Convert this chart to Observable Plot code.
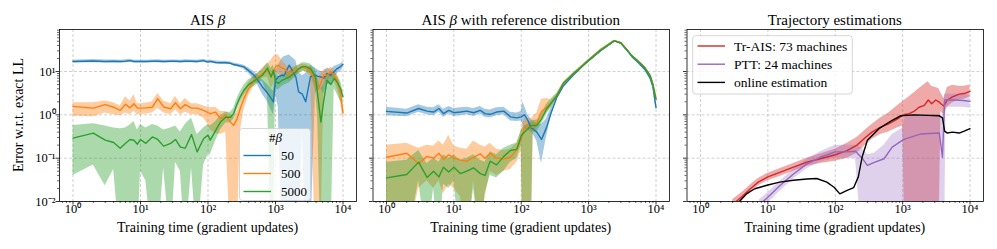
<!DOCTYPE html>
<html><head><meta charset="utf-8">
<script src="https://cdn.jsdelivr.net/npm/d3@7"></script>
<script src="https://cdn.jsdelivr.net/npm/@observablehq/plot@0.6"></script>
<style>
body{margin:0;background:#fff;}
#wrap{position:relative;width:997px;height:249px;font-family:"Liberation Serif",serif;overflow:hidden;}
.p{position:absolute;top:0;}
.p svg text{font-family:"Liberation Serif",serif !important;font-size:12.5px !important;fill:#000;}
#ov{position:absolute;left:0;top:0;pointer-events:none;}
</style></head>
<body><div id="wrap"></div>
<script>
// ---------- Panel 1 : AIS beta ----------
const p1T = [1,2,3,4,5,6,7,8,9,10, 12,15,18,22,28,33,39,46,57,69,86, 100,108,130,153,183,216,240,270,300, 340,400,480,540,640,760,860,930, 1000,1100,1250,1330,1600,2000,2200,2500,2800,3300,3900, 4200,4700,5200,5800,6600,7400,8200,9200,10000];
const p1Blue   = [17,17.5,17,17.2,17,17.3,17.8,17,17,17, 17,17.2,17.3,17,17.2,17.2,17,17.3,17.2,17,17.8, 16.5,17.2,16.2,16,16,15.5,14.5,14,13.5, 12.8,10.5,8.2,6.5,4.4,3.2,2.4,2.0, 6.3,7.5,8.2,8,14,7.5,3.4,3.0,2.0,7.6,8.2, 7.8,7.5,7,9,8.2,10,11.7,13,14.7];
const p1BlueLo = [15.8,16,15.8,15.9,15.8,16,16.3,15.8,15.8,15.8, 15.8,16,16,15.8,16,16,15.8,16,16,15.8,16.3, 15.3,15.9,15,14.8,14.8,14.3,13.4,12.9,12.3, 11.5,9,6.5,5,3,2,1.3,1.0, 3,1.5,0.001,0.001,0.001,0.001,0.001,0.4,0.001,0.001,3, 4,4,3,5,5,7,9,10,12];
const p1BlueHi = [18.3,19,18.5,18.5,18.3,18.6,19.2,18.3,18.3,18.3, 18.3,18.5,18.6,18.3,18.5,18.5,18.3,18.6,18.5,18.3,19.2, 17.8,18.5,17.5,17.2,17.2,16.7,15.7,15.2,14.7, 14,12,10,8.5,6.5,5,4,3.5, 10,14,20,22,24,18,10,8,9,14,12, 11,10,10,12,11,13,14,15,17];
const p1Orange   = [1.57,1.43,1.72,1.5,1.27,1.75,1.45,1.8,1.43,1.43, 1.45,1.5,2.37,1.52,1.38,1.9,1.38,1.72,1.43,1.43,1.27, 1.12,1.07,1.16,0.82,0.97,0.68,0.57,0.82,1.38, 2.37,4,6.2,7.2,9,10.3,8,9, 13,14,12,11.7,9,10.7,11.5,12.8,12,10.5,5.7, 3.7,5.3,8.2,8.2,9.8,8.2,6.3,3.1,1.1];
const p1OrangeLo = [0.93,0.9,1.1,1.0,0.95,1.1,1.0,1.2,1.0,1.0, 1.05,1.1,1.4,1.1,1.0,1.3,1.0,1.15,1.0,1.0,0.85, 0.6,0.45,0.37,0.35,0.4,0.001,0.001,0.001,0.4, 1.3,2.8,4.5,5.5,7,7.5,4,5, 8,9,8,8,6,8,9,10.5,10,8,0.001, 0.001,0.001,5,6,7,6,4,2,0.7];
const p1OrangeHi = [1.9,1.9,2.1,1.9,1.6,2.6,2.1,2.9,1.8,1.8, 1.85,2.0,3.1,2.1,1.8,2.7,1.8,2.4,1.8,1.8,1.6, 1.5,1.45,1.5,1.2,1.2,1.0,0.9,1.2,1.9, 3.2,5.5,8,9,12,15,18,22, 24,24,18,16,12,13.5,14,15,14.5,13,9, 7,9,11,11,12.5,11,9,5,1.8];
const p1Green   = [0.29,0.38,0.26,0.23,0.17,0.22,0.27,0.26,0.21,0.27, 0.22,0.31,0.27,0.19,0.22,0.27,0.18,0.17,0.35,0.14,0.28, 0.34,0.26,0.44,0.68,0.88,0.88,1.07,1.8,2.6, 3.7,5,6,6.9,8.2,12,7.5,10.7, 6,5.3,6.3,6.5,7.5,9.8,11.5,13,13,11.7,7.5, 3.1,0.68,2.2,6.3,5,7,5.7,4,2.6];
const p1GreenLo = [0.04,0.07,0.023,0.055,0.001,0.001,0.001,0.001,0.001,0.05, 0.03,0.001,0.001,0.06,0.001,0.08,0.05,0.001,0.06,0.001,0.07, 0.12,0.12,0.25,0.45,0.65,0.65,0.8,1.3,1.9, 2.8,3.8,4.5,5.2,6,3,0.001,0.001, 4,3.8,4.5,4.8,5.5,7.5,9,10,10,9,4, 1.0,0.001,0.001,0.001,0.001,4,3,2,1.8];
const p1GreenHi = [0.57,0.62,0.55,0.5,0.48,0.5,0.58,0.7,0.45,0.6, 0.5,0.6,0.55,0.45,0.5,0.55,0.4,0.6,0.85,0.35,0.5, 0.6,0.55,0.7,0.95,1.15,1.15,1.4,2.4,3.4, 4.8,6.5,7.8,9,11,16,12,14, 8.5,7.5,8.5,8.5,10,12.5,14,16,16,15,11, 7,4,5,9,9,10,8,6,3.6];

// ---------- Panel 2 : AIS beta with reference distribution ----------
const p2T = [1,2,3,4,5,6,7,8.4,10,12.5, 15.6,19.6,24.7,29,34.6,43,55,69,86,100, 105,112,125,140,150,170,200,236,280,340, 420,590,940,1500,2400,3000,3700,4400,5500,6900, 8200,9000,10000];
const p2Blue   = [1.2,1.1,1.4,1.22,1.16,1.4,1.07,1.27,1.12,1.16, 1.22,1.12,1.27,1.07,1.03,1.16,1.22,0.9,0.85,0.9, 0.95,1.0,0.75,0.5,0.47,0.4,0.27,0.5,1.16,2.6, 4.6,8.2,16.5,30,51,45,31,22,16,11, 7,4.5,1.47];
const p2BlueLo = [0.95,0.9,1.15,1.0,0.95,1.15,0.88,1.05,0.92,0.95, 1.0,0.92,1.05,0.88,0.85,0.95,1.0,0.72,0.7,0.72, 0.6,0.45,0.45,0.4,0.35,0.25,0.075,0.3,0.95,2.3, 4.2,7.6,15.5,28.5,49,43,29.5,21,15,10.3, 6.4,4,1.3];
const p2BlueHi = [1.5,1.35,1.7,1.5,1.45,1.7,1.35,1.55,1.4,1.45, 1.5,1.4,1.55,1.35,1.3,1.45,1.5,1.15,1.1,1.2, 2.0,1.6,1.0,0.8,0.7,0.65,0.6,0.8,1.5,2.9, 5,8.8,17.5,31.5,53,47,33,23,17,11.7, 7.6,5,1.65];
const p2Orange   = [0.105,0.13,0.075,0.11,0.1,0.13,0.095,0.12,0.1,0.09, 0.085,0.105,0.125,0.1,0.13,0.1,0.097,0.105,0.16,0.28, 0.35,0.55,0.55,0.52,0.55,0.63,1.2,1.5,1.9,2.8, 5.3,8.8,16.5,31,51,46,32,23,17,12, 8,5,2.3];
const p2OrangeLo = [0.001,0.001,0.02,0.03,0.02,0.03,0.015,0.025,0.02,0.013, 0.001,0.03,0.001,0.012,0.05,0.04,0.05,0.055,0.08,0.15, 0.001,0.001,0.001,0.001,0.35,0.5,0.8,1.1,1.5,2.5, 5,8.3,15.8,29.5,49,44,30.5,22,16.2,11.4, 7.6,4.7,2.1];
const p2OrangeHi = [0.2,0.22,0.17,0.2,0.19,0.25,0.2,0.34,0.19,0.17, 0.16,0.25,0.2,0.18,0.22,0.16,0.15,0.16,0.22,0.4, 0.6,0.85,0.8,0.8,0.9,1.1,2.3,2.4,2.2,3.1, 5.6,9.3,17.3,32.5,53,48,33.5,24,17.8,12.6, 8.4,5.3,2.5];
const p2Green   = [0.035,0.042,0.081,0.036,0.05,0.037,0.062,0.048,0.062,0.044, 0.05,0.06,0.044,0.04,0.085,0.07,0.11,0.15,0.16,0.33, 0.36,0.4,0.47,0.56,0.57,0.57,0.8,1.35,1.9,2.8, 5.3,8.8,16.5,31,51,46,32,23,17,12, 8,5,2.3];
const p2GreenLo = [0.001,0.001,0.03,0.001,0.02,0.001,0.025,0.02,0.03,0.001, 0.001,0.02,0.001,0.015,0.04,0.035,0.05,0.08,0.1,0.2, 0.001,0.001,0.001,0.001,0.4,0.4,0.6,1.0,1.5,2.5, 5,8.3,15.8,29.5,49,44,30.5,22,16.2,11.4, 7.6,4.7,2.1];
const p2GreenHi = [0.08,0.09,0.15,0.075,0.1,0.08,0.12,0.1,0.12,0.09, 0.1,0.12,0.09,0.08,0.14,0.12,0.17,0.2,0.22,0.45, 0.5,0.55,0.6,0.7,0.75,0.75,1.0,1.7,2.4,3.2, 5.6,9.3,17.3,32.5,53,48,33.5,24,17.8,12.6, 8.4,5.3,2.5];

// ---------- Panel 3 : Trajectory estimations ----------
const p3RedT  = [3,4.3,5.5,7.2,10,15,24,38,60,100, 150,210,280,350,470,620,830,1000,1080,1250, 1470,1750,2100,2400,2700,3100,3450,3700,4100,4600, 5500,6900,8200,10000];
const p3Red   = [0.0085,0.0138,0.0197,0.028,0.037,0.047,0.062,0.081,0.097,0.12, 0.15,0.2,0.3,0.4,0.52,0.62,0.8,0.97,1.02,1.07, 1.2,1.5,1.66,2.2,1.8,2.2,2.0,1.8,1.6,2.2, 2.6,3.0,3.1,3.5];
const p3RedLo = [0.006,0.011,0.016,0.023,0.03,0.038,0.05,0.065,0.075,0.085, 0.1,0.13,0.2,0.27,0.35,0.4,0.5,0.55,0.001,0.001, 0.001,0.001,0.001,0.001,0.001,0.001,0.001,1.2,1.0,1.5, 1.9,2.2,2.3,2.6];
const p3RedHi = [0.011,0.017,0.024,0.034,0.045,0.057,0.075,0.1,0.125,0.16, 0.22,0.3,0.45,0.6,0.85,1.1,1.6,2.0,2.2,2.6, 3.2,4,5,5.8,4.5,4.3,4.0,3.2,2.4,4.3, 4.8,4.6,4.6,4.9];
const p3PurpleT  = [7.5,10,15,24,38,60,100,150,200,250, 300,380,530,700,1000,1100,1830,3500,3900,4200, 4400,6000,8000,10000];
const p3Purple   = [0.0085,0.0125,0.023,0.043,0.074,0.105,0.14,0.14,0.145,0.1, 0.068,0.08,0.097,0.18,0.26,0.28,0.36,0.38,0.105,2.2, 2.2,2.2,2.15,2.05];
const p3PurpleLo = [0.006,0.009,0.017,0.033,0.057,0.08,0.1,0.1,0.1,0.001, 0.001,0.001,0.001,0.001,0.001,0.001,0.001,0.001,0.001,0.001, 1.5,1.5,1.5,1.4];
const p3PurpleHi = [0.011,0.016,0.029,0.055,0.095,0.14,0.2,0.2,0.2,0.17, 0.12,0.13,0.2,0.35,0.5,0.95,1.0,1.0,0.9,3.0, 3.0,3.0,2.9,2.8];
const p3BlackT = [3.5,4.8,6.4,10,15,24,38,53,75,97, 117,150,188,220,250,300,445,700,930,1470, 2340,3500,3900,4200,4600,5500,6900,8200,10000];
const p3Black  = [0.0088,0.015,0.0197,0.024,0.028,0.031,0.033,0.034,0.028,0.021, 0.015,0.018,0.021,0.037,0.105,0.26,0.48,0.75,0.95,1.0, 0.97,0.95,0.85,0.42,0.38,0.4,0.38,0.42,0.48];

// ---------- labels ----------
const titles = ["AIS ", "AIS ", "Trajectory estimations"];
const titleBeta = ["β", "β with reference distribution", ""];
const xLabel = "Training time (gradient updates)";
const yLabel = "Error w.r.t. exact LL";
const legend1Title = "#";
const legend1Labels = ["50", "500", "5000"];
const legend3Labels = ["Tr-AIS: 73 machines", "PTT: 24 machines", "online estimation"];
const majorX = [1, 10, 100, 1000, 10000];
const majorY = [0.01, 0.1, 1, 10];

const C = {blue:"#1f77b4", orange:"#ff7f0e", green:"#2ca02c", red:"#d62728", purple:"#9467bd", black:"#000000"};

const minorX = [], minorY = [];
for (let e = -1; e <= 4; e++) for (let m = 2; m <= 9; m++) { const v = m * 10 ** e; if (v > 10 ** -0.2 && v < 10 ** 4.2) minorX.push(v); }
for (let e = -2; e <= 1; e++) for (let m = 2; m <= 9; m++) { const v = m * 10 ** e; if (v < 10 ** 1.97) minorY.push(v); }

const sup = {"0":"⁰","1":"¹","2":"²","3":"³","4":"⁴","-":"⁻"};
const fmtPow = d => "10" + String(Math.round(Math.log10(d))).split("").map(c => sup[c]).join("");
const blank = () => "";

const rows = (t, y, lo, hi) => t.map((d, i) => ({t: d, y: y[i], lo: lo ? lo[i] : null, hi: hi ? hi[i] : null}));

function panel(width, ml, mr, series, showY) {
  const marks = [
    Plot.gridX(majorX, {stroke: "#b0b0b0", strokeOpacity: 0.75, strokeWidth: 0.8, strokeDasharray: "3,2"}),
    Plot.gridY(majorY, {stroke: "#b0b0b0", strokeOpacity: 0.75, strokeWidth: 0.8, strokeDasharray: "3,2"})
  ];
  for (const s of series) if (s.band) marks.push(Plot.areaY(s.data, {x: "t", y1: "lo", y2: "hi", fill: s.color, fillOpacity: s.alpha, clip: true}));
  for (const s of series) marks.push(Plot.line(s.data, {x: "t", y: "y", stroke: s.color, strokeWidth: 1.4, clip: true}));
  marks.push(
    Plot.frame({stroke: "#000", strokeWidth: 0.8}),
    Plot.axisX(majorX, {anchor: "bottom", tickSize: 3.5, tickPadding: -0.5, tickFormat: fmtPow, label: null, strokeWidth: 0.8}),
    Plot.axisX(minorX, {anchor: "bottom", tickSize: 2, tickFormat: blank, label: null, strokeWidth: 0.6}),
    Plot.axisY(majorY, {anchor: "left", tickSize: 3.5, tickPadding: 0.5, tickFormat: showY ? fmtPow : blank, label: null, strokeWidth: 0.8}),
    Plot.axisY(minorY, {anchor: "left", tickSize: 2, tickFormat: blank, label: null, strokeWidth: 0.6})
  );
  return Plot.plot({
    width, height: 249, marginLeft: ml, marginRight: mr, marginTop: 29, marginBottom: 48,
    x: {type: "log", domain: [10 ** -0.2, 10 ** 4.2]},
    y: {type: "log", domain: [0.01, 10 ** 1.97]},
    style: {fontFamily: "Liberation Serif", fontSize: "12.5px", color: "black", background: "transparent"},
    marks
  });
}

const s1 = [
  {data: rows(p1T, p1Blue, p1BlueLo, p1BlueHi), color: C.blue, alpha: 0.4, band: true},
  {data: rows(p1T, p1Orange, p1OrangeLo, p1OrangeHi), color: C.orange, alpha: 0.4, band: true},
  {data: rows(p1T, p1Green, p1GreenLo, p1GreenHi), color: C.green, alpha: 0.4, band: true}
];
const s2 = [
  {data: rows(p2T, p2Blue, p2BlueLo, p2BlueHi), color: C.blue, alpha: 0.4, band: true},
  {data: rows(p2T, p2Orange, p2OrangeLo, p2OrangeHi), color: C.orange, alpha: 0.4, band: true},
  {data: rows(p2T, p2Green, p2GreenLo, p2GreenHi), color: C.green, alpha: 0.4, band: true}
];
const s3 = [
  {data: rows(p3RedT, p3Red, p3RedLo, p3RedHi), color: C.red, alpha: 0.4, band: true},
  {data: rows(p3PurpleT, p3Purple, p3PurpleLo, p3PurpleHi), color: C.purple, alpha: 0.3, band: true},
  {data: rows(p3BlackT, p3Black), color: C.black, band: false}
];

const wrap = document.getElementById("wrap");
const layout = [
  {left: 0, width: 360, ml: 59, mr: 4, s: s1, y: true},
  {left: 360, width: 312, ml: 12.5, mr: 3, s: s2, y: false},
  {left: 672, width: 325, ml: 14.5, mr: 14, s: s3, y: false}
];
for (const L of layout) {
  const d = document.createElement("div");
  d.className = "p"; d.style.left = L.left + "px";
  d.appendChild(panel(L.width, L.ml, L.mr, L.s, L.y));
  wrap.appendChild(d);
}

// overlay: titles, axis labels, legends
const centers = [207.6, 520.75, 834.75];
let ov = `<svg id="ov" width="997" height="249" font-family="Liberation Serif">`;
centers.forEach((cx, i) => {
  ov += `<text x="${cx}" y="25" font-size="15" text-anchor="middle">${titles[i]}${titleBeta[i] ? `<tspan font-style="italic">β</tspan>${titleBeta[i].slice(1)}` : ""}</text>`;
  ov += `<text x="${cx}" y="231.5" font-size="14" text-anchor="middle">${xLabel}</text>`;
});
ov += `<text transform="translate(22.5,115) rotate(-90)" font-size="14" text-anchor="middle">${yLabel}</text>`;
// legend 1
ov += `<rect x="239.5" y="128.5" width="71" height="72" rx="3" fill="white" fill-opacity="0.8" stroke="#cccccc" stroke-width="0.8"/>`;
ov += `<text x="275.5" y="141.5" font-size="13" text-anchor="middle">${legend1Title}<tspan font-style="italic">β</tspan></text>`;
[C.blue, C.orange, C.green].forEach((c, i) => {
  const y = [155.5, 173.5, 191.5][i];
  ov += `<line x1="243.5" x2="271" y1="${y}" y2="${y}" stroke="${c}" stroke-width="1.4"/>`;
  ov += `<text x="281" y="${y + 4.5}" font-size="13">${legend1Labels[i]}</text>`;
});
// legend 3
ov += `<rect x="692.7" y="35.7" width="159.6" height="58.3" rx="3" fill="white" fill-opacity="0.8" stroke="#cccccc" stroke-width="0.8"/>`;
[C.red, C.purple, C.black].forEach((c, i) => {
  const y = [46, 64.2, 82.4][i];
  ov += `<line x1="697.5" x2="725" y1="${y}" y2="${y}" stroke="${c}" stroke-width="1.4"/>`;
  ov += `<text x="734" y="${y + 4.5}" font-size="13.5">${legend3Labels[i]}</text>`;
});
ov += `</svg>`;
wrap.insertAdjacentHTML("beforeend", ov);
</script>
</body></html>
